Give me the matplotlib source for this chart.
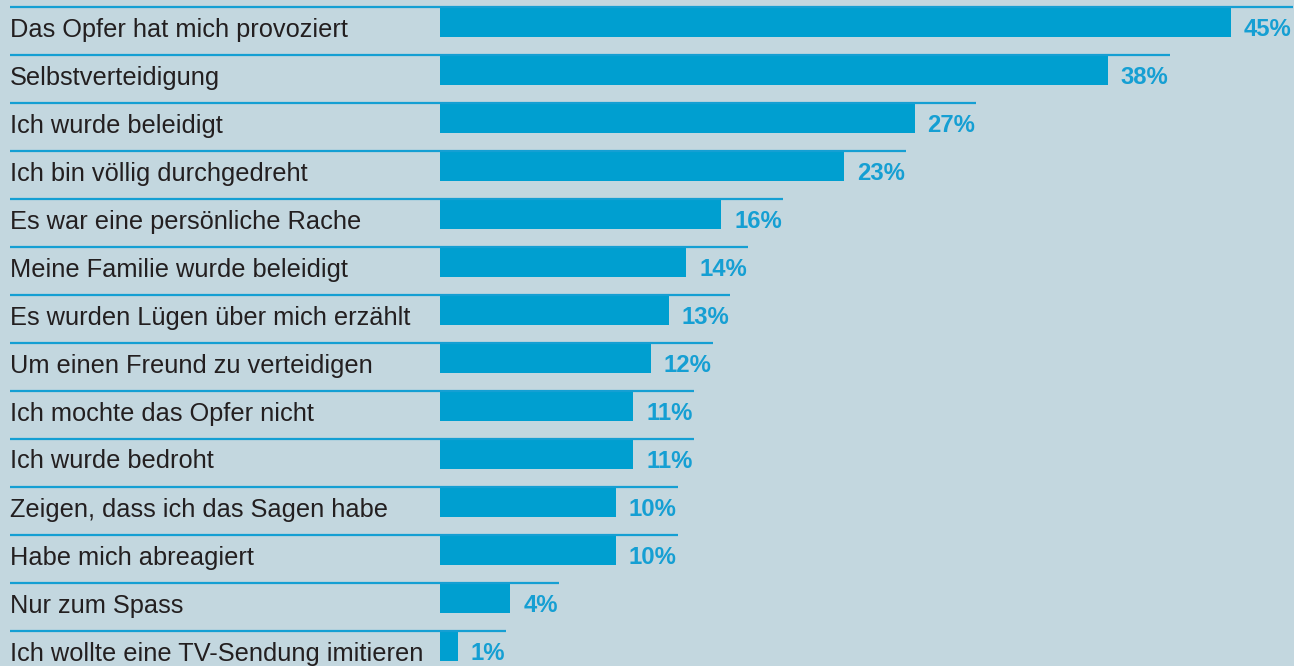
import matplotlib.pyplot as plt

reasons = [
    "Das Opfer hat mich provoziert",
    "Selbstverteidigung",
    "Ich wurde beleidigt",
    "Ich bin völlig durchgedreht",
    "Es war eine persönliche Rache",
    "Meine Familie wurde beleidigt",
    "Es wurden Lügen über mich erzählt",
    "Um einen Freund zu verteidigen",
    "Ich mochte das Opfer nicht",
    "Ich wurde bedroht",
    "Zeigen, dass ich das Sagen habe",
    "Habe mich abreagiert",
    "Nur zum Spass",
    "Ich wollte eine TV-Sendung imitieren",
]
shares = [45, 38, 27, 23, 16, 14, 13, 12, 11, 11, 10, 10, 4, 1]

BG = "#c3d7df"
BLUE = "#009fd0"
LABEL_BLUE = "#159fd3"
TEXT = "#231f20"

W, H = 1294, 666
px_per_pct = (1231 - 440) / 45.0
row_px = 48.0

fig = plt.figure(figsize=(W / 100, H / 100), dpi=100, facecolor=BG)
ax = fig.add_axes([0, 0, 1, 1])
ax.set_facecolor(BG)
ax.set_xlim(-440 / px_per_pct, (W - 440) / px_per_pct)
ax.set_ylim((H - 7) / row_px, -7 / row_px)
ax.axis("off")

bar_h = 29 / row_px
centers = [i + 15.5 / row_px for i in range(len(shares))]
ax.barh(centers, shares, height=bar_h, color=BLUE, linewidth=0)

fig.canvas.draw()
renderer = fig.canvas.get_renderer()
inv = ax.transData.inverted()
x_left = -430 / px_per_pct
base = 29.5 / row_px

for i, (name, v) in enumerate(zip(reasons, shares)):
    ax.text(x_left, i + base, name, fontsize=18.3, color=TEXT,
            family="Liberation Sans", va="baseline", ha="left")
    t = ax.text(v + 13 / px_per_pct, i + base, f"{v}%", fontsize=17.2,
                color=LABEL_BLUE, family="Liberation Sans", weight="bold",
                va="baseline", ha="left")
    bb = t.get_window_extent(renderer)
    x_end = inv.transform((bb.x1 + 1, 0))[0]
    ax.plot([x_left, x_end], [i, i], color=LABEL_BLUE, lw=1.6,
            solid_capstyle="butt")

fig.savefig("out.png", dpi=100, facecolor=BG)
